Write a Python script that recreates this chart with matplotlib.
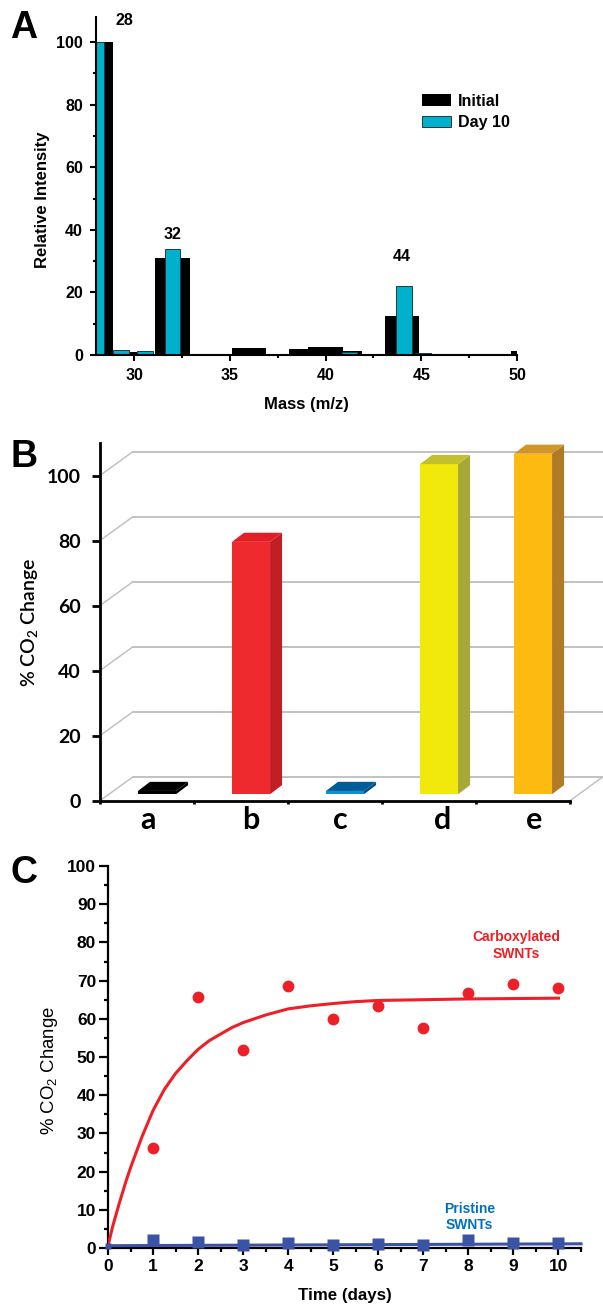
# Three panel figure: mass spectra, CO2 bars, CO2 time course
import matplotlib
matplotlib.use("Agg")
import matplotlib.pyplot as plt
from matplotlib.patches import Polygon
from matplotlib.ticker import MultipleLocator

plt.rcParams['font.family'] = ['Liberation Sans', 'DejaVu Sans']
plt.rcParams['font.weight'] = 'bold'
plt.rcParams['mathtext.default'] = 'regular'

W, H = 603, 1309

# --- panel A
initial_mass = [28, 30, 32, 36, 39, 40, 41, 44, 50.6]
initial_int = [100, 1, 31, 2.2, 1.8, 2.7, 1.4, 12.4, 1.2]
day10_mass = [28, 29.3, 30.55, 32, 41.25, 44.1, 45.1]
day10_int = [100, 1.5, 1.3, 33.8, 0.9, 22, 0.7]
peak_mass = [29.5, 32.0, 44.0]
peak_y = [107, 38.5, 31.5]
peak_labels = ['28', '32', '44']

# --- panel B
bar_labels = ['a', 'b', 'c', 'd', 'e']
label_pos = [0.51, 1.6, 2.56, 3.64, 4.62]
bar_values = [1, 77.6, 1, 101.5, 104.7]
bar_front = ['#000000', '#ee2a2e', '#0f8fd0', '#f2e90c', '#fdbb11']
bar_top = ['#000000', '#e31e26', '#005b96', '#c2c02c', '#d2952a']
bar_side = ['#000000', '#c01f26', '#004f80', '#a6a837', '#b07a26']
b_ticks = [0, 20, 40, 60, 80, 100]

# --- panel C
days = [1, 2, 3, 4, 5, 6, 7, 8, 9, 10]
carbox = [26.2, 65.7, 51.8, 68.7, 59.9, 63.4, 57.5, 66.7, 69, 68]
pristine = [2.1, 1.5, 0.8, 1.4, 0.8, 1.1, 0.7, 2, 1.4, 1.3]
fit_x = [0, 0.1, 0.25, 0.4, 0.5, 0.75, 1, 1.25, 1.5, 1.75, 2, 2.25, 2.5, 2.75, 3, 3.25, 3.5, 3.75, 4,
         4.5, 5, 5.5, 6, 7, 8, 9, 10]
fit_y = [0.5, 5.5, 11.7, 17.5, 21, 29, 36, 41.5, 45.7, 49, 52, 54.3, 56, 57.7, 59, 60, 61, 61.8, 62.6,
         63.4, 64, 64.5, 64.8, 65, 65.2, 65.3, 65.4]
base_x = [0, 10.5]
base_y = [0.6, 1.1]


def px_axes(fig, left, top, right, bottom):
    # axes placed by pixel box, origin at the top left
    ax = fig.add_axes([left / W, 1 - bottom / H, (right - left) / W, (bottom - top) / H])
    ax.spines['top'].set_visible(False)
    ax.spines['right'].set_visible(False)
    ax.patch.set_alpha(0)
    return ax


fig = plt.figure(figsize=(W / 100, H / 100), dpi=100)

# ---------- A ----------
ax = px_axes(fig, 96, 17, 517, 355)
ax.set_xlim(28, 50)
ax.set_ylim(0, 108)
ax.bar(initial_mass, initial_int, width=1.8, color='black', label='Initial')
ax.bar(day10_mass, day10_int, width=0.82, color='#00b1cd', edgecolor='#1d3b40', linewidth=0.7, label='Day 10')
for s in ('left', 'bottom'):
    ax.spines[s].set_linewidth(1.5)
    ax.spines[s].set_zorder(5)
ax.xaxis.set_major_locator(MultipleLocator(5))
ax.xaxis.set_minor_locator(MultipleLocator(2.5))
ax.yaxis.set_major_locator(MultipleLocator(20))
ax.yaxis.set_minor_locator(MultipleLocator(10))
ax.set_xticks([30, 35, 40, 45, 50])
ax.tick_params(which='major', length=4.5, width=1.5, labelsize=11.5, pad=5)
ax.tick_params(which='minor', length=2, width=1.5)
ax.set_xlabel('Mass (m/z)', fontsize=12, fontweight='bold', labelpad=10)
ax.set_ylabel('Relative Intensity', fontsize=12, fontweight='bold', labelpad=4, y=0.46)
for m, y, t in zip(peak_mass, peak_y, peak_labels):
    ax.text(m, y, t, ha='center', va='center', fontsize=11.5)
ax.legend(loc='upper left', bbox_to_anchor=(417 / W, 1 - 89 / H), bbox_transform=fig.transFigure,
          frameon=False, fontsize=11.5, handlelength=1.8, handleheight=0.75,
          handletextpad=0.45, labelspacing=0.4, borderpad=0.3, borderaxespad=0)

# ---------- B ----------
ax = px_axes(fig, 100, 443, 570, 800.7)
ax.set_xlim(0, 5)
ax.set_ylim(0, 110)
dx_wall, dy_wall = 0.348, 7.3      # depth of the back wall
dx_bar, dy_bar = 0.128, 2.8        # depth of a bar
bar_w, bar_off, bar_base = 0.405, 0.404, 2.0
grid_c = '#bdbdbd'
for v in b_ticks:
    ax.plot([0, dx_wall], [v, v + dy_wall], color=grid_c, lw=1, clip_on=False, zorder=1)
    ax.plot([dx_wall, 5 + dx_wall], [v + dy_wall, v + dy_wall], color=grid_c, lw=1.3, clip_on=False, zorder=1)
ax.plot([5, 5 + dx_wall], [0, dy_wall], color=grid_c, lw=1, clip_on=False, zorder=1)
for i, val in enumerate(bar_values):
    x0 = i + bar_off
    x1 = x0 + bar_w
    y0 = bar_base
    y1 = bar_base + val
    ax.add_patch(Polygon([(x0, y0), (x1, y0), (x1, y1), (x0, y1)], closed=True, fc=bar_front[i], ec='none', zorder=3))
    ax.add_patch(Polygon([(x1, y0), (x1 + dx_bar, y0 + dy_bar), (x1 + dx_bar, y1 + dy_bar), (x1, y1)],
                         closed=True, fc=bar_side[i], ec='none', zorder=3, clip_on=False))
    ax.add_patch(Polygon([(x0, y1), (x1, y1), (x1 + dx_bar, y1 + dy_bar), (x0 + dx_bar, y1 + dy_bar)],
                         closed=True, fc=bar_top[i], ec='none', zorder=3, clip_on=False))
for s in ('left', 'bottom'):
    ax.spines[s].set_linewidth(2)
    ax.spines[s].set_zorder(5)
ax.set_yticks(b_ticks)
ax.set_xticks([0, 1, 2, 3, 4, 5])
ax.set_xticks(label_pos, labels=bar_labels, minor=True)
ax.set_xticklabels([])
ax.tick_params(axis='y', length=6, width=2, pad=8)
ax.tick_params(axis='x', which='major', length=2.5, width=2)
ax.tick_params(axis='x', which='minor', length=0, pad=4)
for lab in ax.get_yticklabels():
    lab.set_family(['Lato', 'DejaVu Sans'])
    lab.set_fontsize(14)
    lab.set_fontweight('bold')
for lab in ax.get_xticklabels(minor=True):
    lab.set_family(['Lato', 'DejaVu Sans'])
    lab.set_fontsize(22)
    lab.set_fontweight('bold')
ax.set_ylabel('% CO$_2$ Change', fontsize=14, fontweight='semibold', family=['Lato', 'DejaVu Sans'], labelpad=5)

# ---------- C ----------
ax = px_axes(fig, 108, 866, 581, 1248)
ax.set_xlim(0, 10.5)
ax.set_ylim(0, 100)
ax.plot(base_x, base_y, color='#3a53a4', lw=2.2, clip_on=False, zorder=3)
ax.plot(fit_x, fit_y, color='#ed2027', lw=2.2, zorder=3)
ax.plot(days, carbox, 'o', color='#ed2027', ms=8.5, mec='none', zorder=4)
ax.plot(days, pristine, 's', color='#3a53a4', ms=8, mec='none', clip_on=False, zorder=4)
ax.plot([0], [base_y[0]], 's', color='#3a53a4', ms=5, mec='none', clip_on=False, zorder=4)
for s in ('left', 'bottom'):
    ax.spines[s].set_linewidth(1.6)
ax.xaxis.set_major_locator(MultipleLocator(1))
ax.xaxis.set_minor_locator(MultipleLocator(0.5))
ax.yaxis.set_major_locator(MultipleLocator(10))
ax.yaxis.set_minor_locator(MultipleLocator(5))
ax.tick_params(axis='y', which='major', length=6.5, width=1.6, labelsize=12.5, pad=2)
ax.tick_params(axis='x', which='major', length=5, width=1.6, labelsize=12.5, pad=3)
ax.tick_params(which='minor', length=3, width=1.6)
ax.set_xlabel('Time (days)', fontsize=12.2, fontweight='bold', labelpad=10)
ax.set_ylabel('% CO$_2$ Change', fontsize=13.4, fontweight='normal', labelpad=5, y=0.466)
ax.text(9.06, 79.2, 'Carboxylated\nSWNTs', color='#ed2027', fontsize=10, ha='center', va='center', linespacing=1.2)
ax.text(8.03, 8.1, 'Pristine\nSWNTs', color='#0072bc', fontsize=10, ha='center', va='center', linespacing=1.2)

# panel letters
for t, x, y in [('A', 24, 28), ('B', 24, 457), ('C', 24, 873)]:
    fig.text(x / W, 1 - y / H, t, fontsize=27, fontweight='bold', ha='center', va='center')

fig.savefig('out.png', dpi=100)
